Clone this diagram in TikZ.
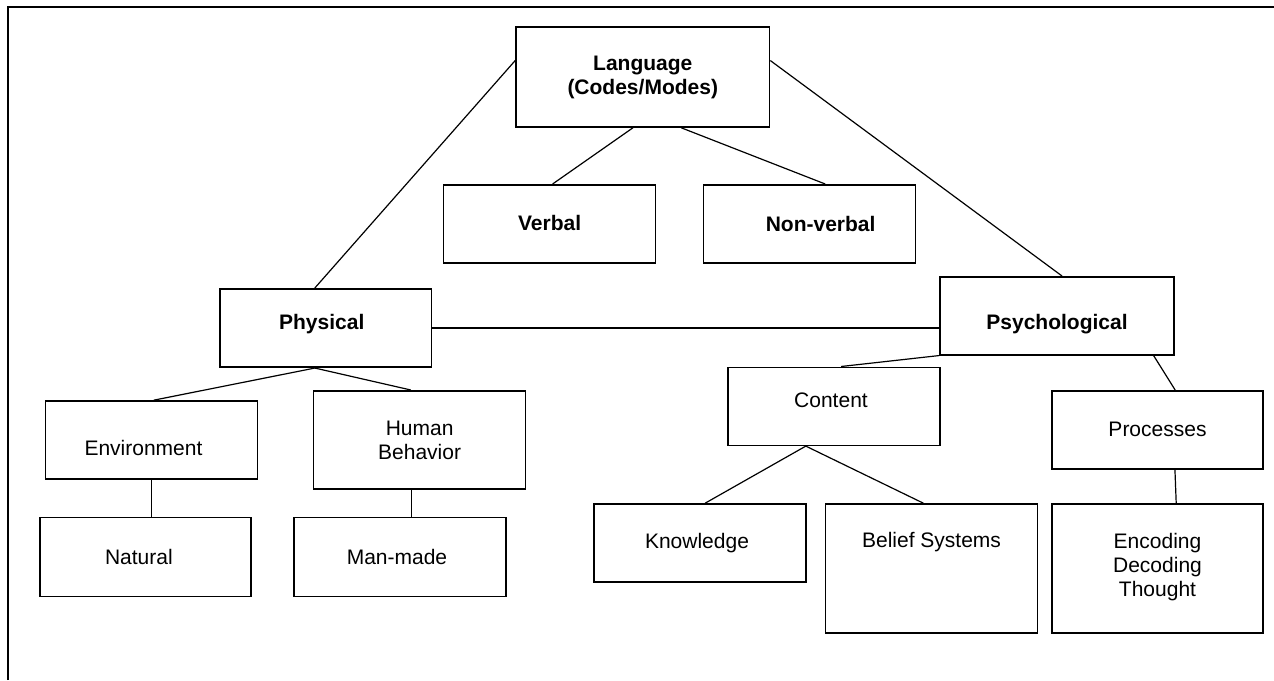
\documentclass[tikz,border=0pt]{standalone}
\usepackage{fontspec}
\setmainfont{Liberation Sans}
\usetikzlibrary{calc}
\begin{document}
\begin{tikzpicture}[x=1pt,y=-1pt,
  box/.style={draw, line width=1.6pt, inner sep=0pt, minimum width=212pt, minimum height=78pt,
    font=\fontsize{21}{24}\selectfont},
  bbox/.style={box, font=\fontsize{21}{24}\selectfont\bfseries},
  tpos/.style n args={2}{text height=#1pt, text depth=#2pt},
  conn/.style={line width=1.2pt},
  frame/.style={line width=2pt}]
\useasboundingbox[fill=white] (0,0) rectangle (1274,680);
\draw[frame] (7.8,680) -- (7.8,6.7) -- (1274,6.7);

\node[bbox, align=center, minimum width=253.5pt, minimum height=100pt] (lang) at (642.75,77) {Language\\(Codes/Modes)};
\node[bbox, tpos={36.7}{23.3}] (verbal) at (549.6,223.8) {Verbal};
\node[bbox, tpos={37.7}{22.3}] (nonverbal) at (809.6,223.8) {\hspace*{22pt}Non-verbal};
\node[bbox, tpos={31.2}{28.8}, minimum width=211.5pt, minimum height=78.5pt] (phys) at (325.75,328) {Physical\hspace*{8pt}};
\node[bbox, tpos={44}{16}, minimum width=234pt] (psych) at (1057,315.75) {Psychological};

\node[box, tpos={45.8}{14.2}] (env) at (151.5,440) {Environment\hspace*{16pt}};
\node[box, align=center, minimum height=98.4pt] (human) at (419.6,440) {Human\\Behavior};
\node[box, tpos={37.4}{22.6}, minimum width=211pt, minimum height=79pt] (natural) at (145.4,556.8) {Natural\hspace*{13pt}};
\node[box, tpos={37.4}{22.6}, minimum height=79pt] (manmade) at (400,556.8) {Man-made\hspace*{6pt}};

\node[box, tpos={31.2}{28.8}] (content) at (834,406.3) {Content\hspace*{6pt}};
\node[box, tpos={36.7}{23.3}, minimum width=211pt] (processes) at (1157.5,429.8) {Processes};
\node[box, tpos={35.8}{24.2}] (knowledge) at (700,543) {Knowledge\hspace*{6pt}};
\node[box, tpos={9}{51}, minimum height=129pt] (belief) at (931.5,568.5) {Belief Systems};
\node[box, align=center, minimum width=211pt, minimum height=129pt] (encoding) at (1157.5,568.5) {Encoding\\Decoding\\Thought\\[-16pt]};

\draw[conn] ($(lang.north west)!0.338!(lang.south west)$) -- ($(phys.north west)!0.449!(phys.north east)$);
\draw[conn] ($(lang.north east)!0.338!(lang.south east)$) -- ($(psych.north west)!0.521!(psych.north east)$);
\draw[conn] ($(lang.south west)!0.4615!(lang.south east)$) -- ($(verbal.north west)!0.514!(verbal.north east)$);
\draw[conn] ($(lang.south west)!0.651!(lang.south east)$) -- ($(nonverbal.north west)!0.573!(nonverbal.north east)$);
\draw[conn] (phys.east) -- (phys.east -| psych.west);
\draw[conn] ($(phys.south west)!0.449!(phys.south east)$) -- ($(env.north west)!0.51!(env.north east)$);
\draw[conn] ($(phys.south west)!0.449!(phys.south east)$) -- ($(human.north west)!0.459!(human.north east)$);
\draw[conn] (env.south) -- (env.south |- natural.north);
\coordinate (hb) at ($(human.south west)!0.463!(human.south east)$);
\draw[conn] (hb) -- (hb |- manmade.north);
\draw[conn] (psych.south west) -- ($(content.north west)!0.533!(content.north east)$);
\draw[conn] ($(psych.south west)!0.91!(psych.south east)$) -- ($(processes.north west)!0.583!(processes.north east)$);
\draw[conn] ($(content.south west)!0.368!(content.south east)$) -- ($(knowledge.north west)!0.524!(knowledge.north east)$);
\draw[conn] ($(content.south west)!0.368!(content.south east)$) -- ($(belief.north west)!0.462!(belief.north east)$);
\draw[conn] ($(processes.south west)!0.582!(processes.south east)$) -- ($(encoding.north west)!0.588!(encoding.north east)$);
\end{tikzpicture}
\end{document}
